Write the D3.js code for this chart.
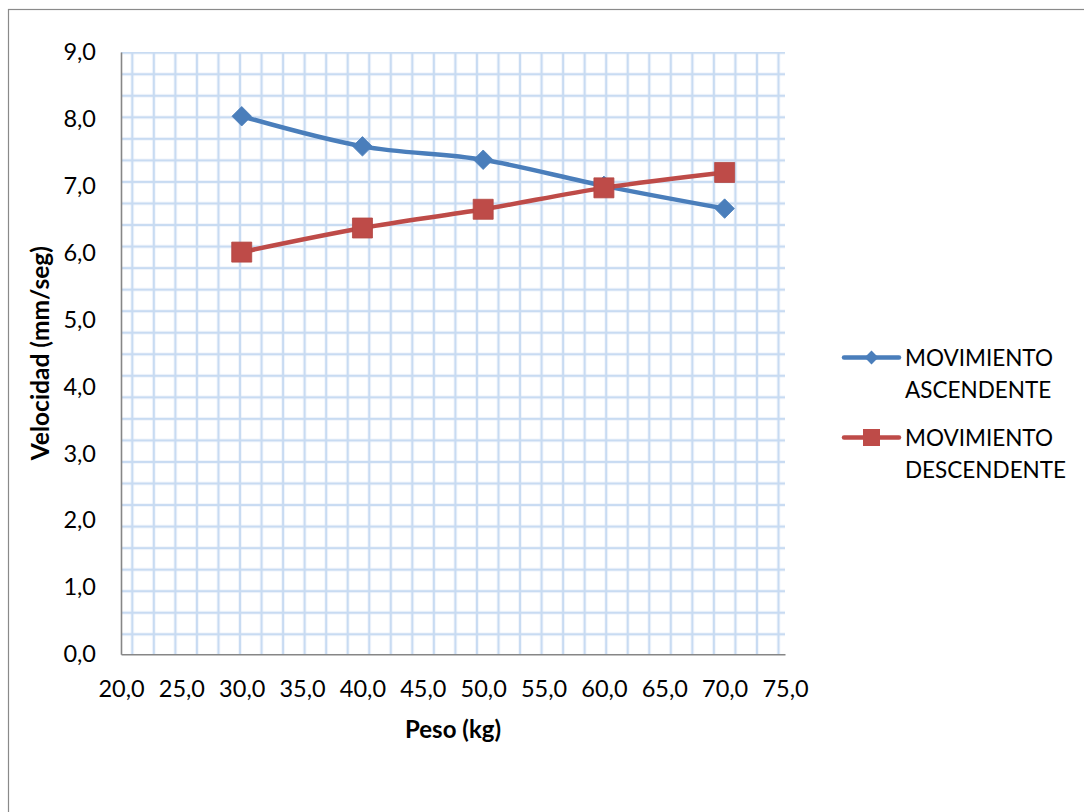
<!DOCTYPE html>
<html>
<head>
<meta charset="utf-8">
<script src="https://cdn.jsdelivr.net/npm/d3@7/dist/d3.min.js"></script>
<style>
  html, body { margin: 0; padding: 0; background: #fff; }
  svg { display: block; }
  text { font-family: Lato, "Open Sans", sans-serif; fill: #000; }
</style>
</head>
<body>
<svg id="chart" width="1084" height="812"></svg>
<script>
// Peso (kg) for each measurement
const peso = [30, 40, 50, 60, 70];
// Velocidad (mm/seg) for each direction of movement
const ascendente = [8.04, 7.59, 7.39, 7.00, 6.66];
const descendente = [6.01, 6.37, 6.65, 6.97, 7.20];
const seriesNames = [["MOVIMIENTO", "ASCENDENTE"], ["MOVIMIENTO", "DESCENDENTE"]];
// Axis ticks
const xTicks = [20, 25, 30, 35, 40, 45, 50, 55, 60, 65, 70, 75];
const yTicks = [0, 1, 2, 3, 4, 5, 6, 7, 8, 9];

const svg = d3.select("#chart");
const W = 1084, H = 812;
const plot = { left: 121, right: 785, top: 52, bottom: 654.3 };

const locale = d3.formatLocale({ decimal: ",", thousands: ".", grouping: [3], currency: ["", " €"] });
const fmt = locale.format(".1f");

const x = d3.scaleLinear().domain([20, 75]).range([plot.left, plot.right]);
const y = d3.scaleLinear().domain([0, 9]).range([plot.bottom, plot.top]);

// outer chart frame
svg.append("rect")
  .attr("x", 8.5).attr("y", 9.5)
  .attr("width", W + 40).attr("height", H + 40)
  .attr("fill", "#fff").attr("stroke", "#8a8a8a").attr("stroke-width", 1.2);

// graph-paper fill of the plot area
const cell = 21.54;
const defs = svg.append("defs");
const pat = defs.append("pattern")
  .attr("id", "paper")
  .attr("patternUnits", "userSpaceOnUse")
  .attr("width", cell).attr("height", cell)
  .attr("x", 132.3 - cell / 2).attr("y", 52.7 - cell / 2);
pat.append("rect").attr("width", cell).attr("height", cell).attr("fill", "#fff");
pat.append("line")
  .attr("x1", cell / 2).attr("x2", cell / 2).attr("y1", 0).attr("y2", cell)
  .attr("stroke", "#c8dbf2").attr("stroke-width", 2.4);
pat.append("line")
  .attr("y1", cell / 2).attr("y2", cell / 2).attr("x1", 0).attr("x2", cell)
  .attr("stroke", "#c8dbf2").attr("stroke-width", 2.4);

svg.append("rect")
  .attr("x", plot.left).attr("y", plot.top)
  .attr("width", plot.right - plot.left).attr("height", plot.bottom - plot.top)
  .attr("fill", "url(#paper)");

// axes
const xAxis = svg.append("g")
  .attr("transform", `translate(0,${plot.bottom})`)
  .call(d3.axisBottom(x).tickValues(xTicks).tickFormat(fmt).tickSize(0).tickPadding(26));
const yAxis = svg.append("g")
  .attr("transform", `translate(${plot.left},0)`)
  .call(d3.axisLeft(y).tickValues(yTicks).tickFormat(fmt).tickSize(0).tickPadding(25));
[xAxis, yAxis].forEach(g => {
  g.select(".domain").attr("stroke", "#868686").attr("stroke-width", 1.6);
  g.selectAll("text").attr("font-family", "Lato, sans-serif").attr("font-size", 23.5).attr("fill", "#000");
});

// axis titles
svg.append("text")
  .attr("x", (plot.left + plot.right) / 2).attr("y", 738)
  .attr("text-anchor", "middle").attr("font-weight", "bold").attr("font-size", 24)
  .text("Peso (kg)");
svg.append("text")
  .attr("transform", `translate(49,${(plot.top + plot.bottom) / 2}) rotate(-90)`)
  .attr("text-anchor", "middle").attr("font-weight", "bold").attr("font-size", 24.5)
  .text("Velocidad (mm/seg)");

// series
const series = [
  { values: ascendente, color: "#4a7ebb", shape: "diamond", names: seriesNames[0] },
  { values: descendente, color: "#be4b48", shape: "square", names: seriesNames[1] }
];

const line = d3.line()
  .x(d => x(d[0])).y(d => y(d[1]))
  .curve(d3.curveMonotoneX);

series.forEach(s => {
  const pts = peso.map((p, i) => [p, s.values[i]]);
  svg.append("path")
    .datum(pts)
    .attr("d", line)
    .attr("fill", "none").attr("stroke", s.color)
    .attr("stroke-width", 4.5).attr("stroke-linecap", "round").attr("stroke-linejoin", "round");
});

// diamonds are squares turned by 45 degrees
const markerTransform = (s, px, py) =>
  `translate(${px},${py})` + (s.shape === "diamond" ? " rotate(45)" : "");

series.forEach(s => {
  const pts = peso.map((p, i) => [p, s.values[i]]);
  const isDiamond = s.shape === "diamond";
  svg.append("g").selectAll("path")
    .data(pts)
    .join("path")
    .attr("transform", d => markerTransform(s, x(d[0]), y(d[1])))
    .attr("d", d3.symbol().type(d3.symbolSquare).size(isDiamond ? 190 : 400))
    .attr("fill", s.color)
    .attr("stroke", isDiamond ? s.color : "#b24643").attr("stroke-width", 0.8);
});

// legend
const legend = svg.append("g");
series.forEach((s, i) => {
  const cy = 357.5 + i * 80;
  const g = legend.append("g").attr("transform", `translate(0,${cy})`);
  g.append("line")
    .attr("x1", 844).attr("x2", 899).attr("y1", 0).attr("y2", 0)
    .attr("stroke", s.color).attr("stroke-width", 4.5).attr("stroke-linecap", "round");
  const isDiamond = s.shape === "diamond";
  g.append("path")
    .attr("transform", markerTransform(s, 871.5, 0))
    .attr("d", d3.symbol().type(d3.symbolSquare).size(isDiamond ? 95 : 290))
    .attr("fill", s.color);
  s.names.forEach((t, j) => {
    g.append("text")
      .attr("x", 905).attr("y", j * 32).attr("dy", "0.36em")
      .attr("font-size", 22.5)
      .text(t);
  });
});
</script>
</body>
</html>
